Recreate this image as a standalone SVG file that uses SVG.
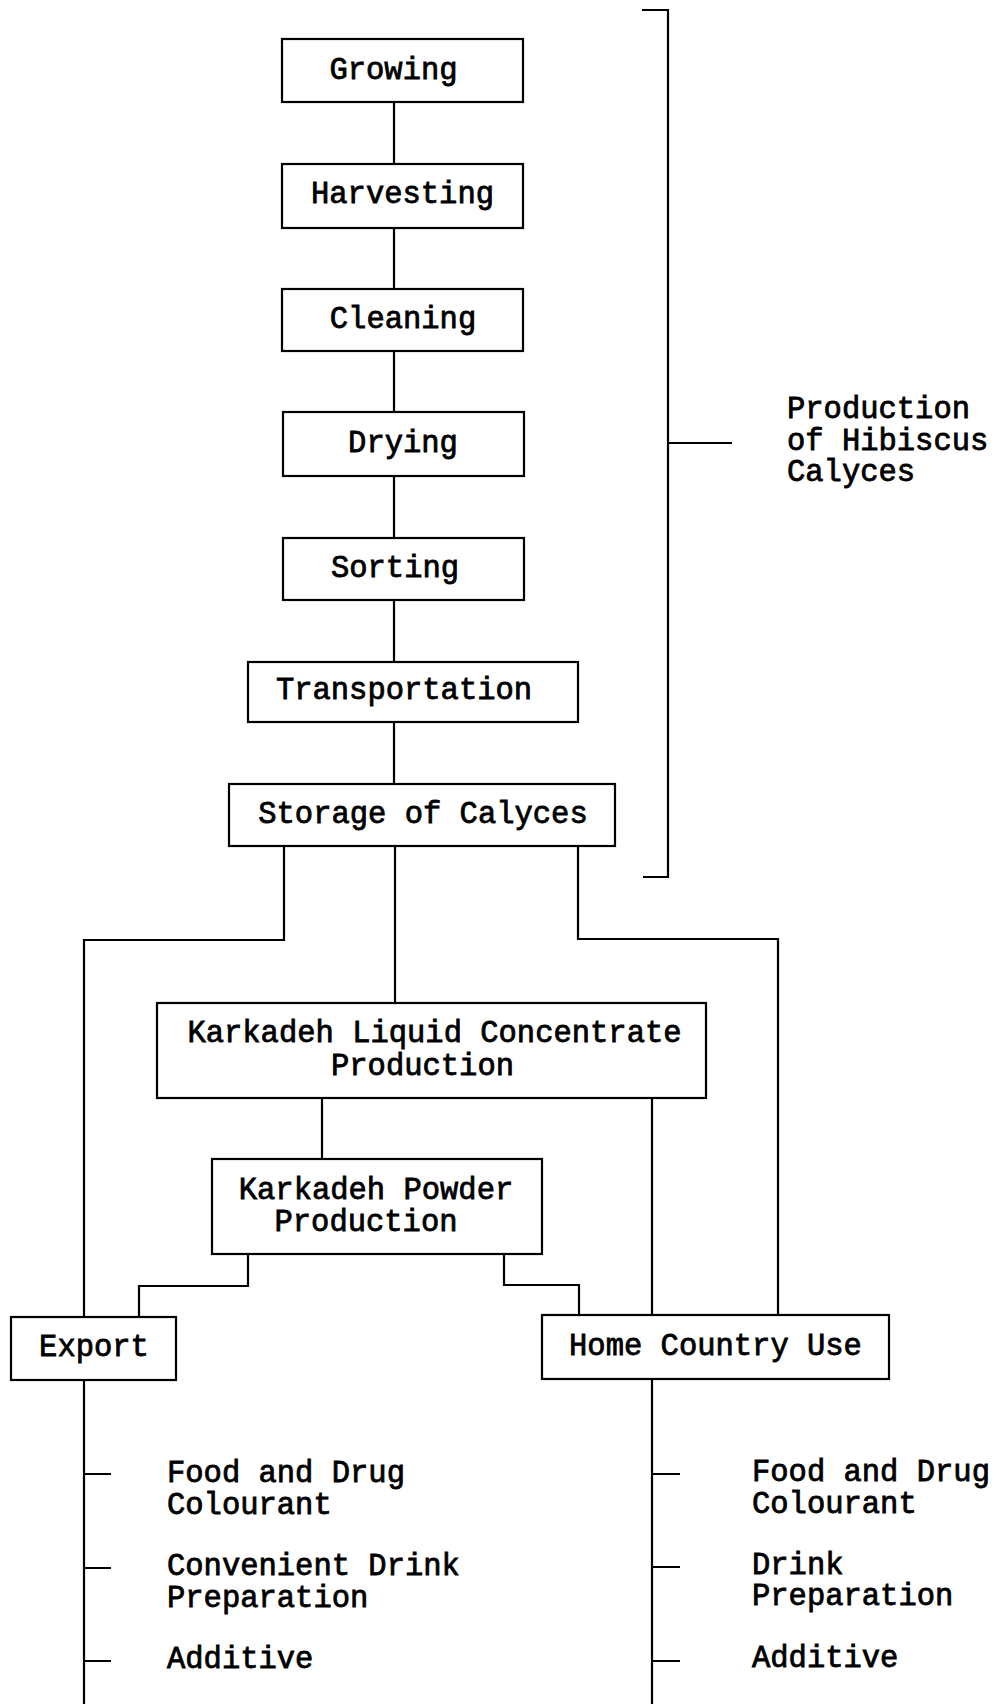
<svg xmlns="http://www.w3.org/2000/svg" width="996" height="1704" viewBox="0 0 996 1704">
<style>
rect{fill:#fff;stroke:#000;stroke-width:2.2}
.c{fill:none;stroke:#000;stroke-width:2.2}
text{font-family:"Liberation Mono","Courier New",monospace;font-size:30.5px;font-weight:normal;fill:#000;stroke:#000;stroke-width:0.8}
.m{text-anchor:middle}
</style>
<rect x="0" y="0" width="996" height="1704" style="stroke:none"/>
<g id="connectors">
<path class="c" d="M394 102V164M394 228V289M394 351V412M394 476V538M394 600V662M394 722V784"/>
<path class="c" d="M284 846V940H84V1317M84 1380V1704"/>
<path class="c" d="M395 846V1003"/>
<path class="c" d="M578 846V939H778V1315"/>
<path class="c" d="M322 1098V1159"/>
<path class="c" d="M652 1098V1315M652 1379V1704"/>
<path class="c" d="M248 1254V1286H139V1317"/>
<path class="c" d="M504 1254V1285H579V1315"/>
<path class="c" d="M642 10H668V877H643M668 443H732"/>
<path class="c" d="M84 1474H111M84 1568H111M84 1661H111"/>
<path class="c" d="M652 1474H680M652 1567H680M652 1661H680"/>
</g>
<g id="growing"><rect x="282" y="39" width="241" height="63"/><text class="m" x="393.5" y="79">Growing</text></g>
<g id="harvesting"><rect x="282" y="164" width="241" height="64"/><text class="m" x="402.5" y="203">Harvesting</text></g>
<g id="cleaning"><rect x="282" y="289" width="241" height="62"/><text class="m" x="403" y="327.5">Cleaning</text></g>
<g id="drying"><rect x="283" y="412" width="241" height="64"/><text class="m" x="403" y="451.5">Drying</text></g>
<g id="sorting"><rect x="283" y="538" width="241" height="62"/><text class="m" x="395" y="577">Sorting</text></g>
<g id="transportation"><rect x="248" y="662" width="330" height="60"/><text class="m" x="404" y="699">Transportation</text></g>
<g id="storage"><rect x="229" y="784" width="386" height="62"/><text class="m" x="423" y="823">Storage of Calyces</text></g>
<g id="liquid"><rect x="157" y="1003" width="549" height="95"/><text class="m" x="434.5" y="1042">Karkadeh Liquid Concentrate</text><text class="m" x="422.5" y="1074.5">Production</text></g>
<g id="powder"><rect x="212" y="1159" width="330" height="95"/><text class="m" x="376" y="1198.5">Karkadeh Powder</text><text class="m" x="366" y="1231">Production</text></g>
<g id="export"><rect x="11" y="1317" width="165" height="63"/><text class="m" x="94" y="1356">Export</text></g>
<g id="home"><rect x="542" y="1315" width="347" height="64"/><text class="m" x="715.5" y="1355">Home Country Use</text></g>
<g id="production-label"><text x="787" y="418">Production</text><text x="787" y="450">of Hibiscus</text><text x="787" y="481">Calyces</text></g>
<g id="export-uses"><text x="167" y="1482">Food and Drug</text><text x="167" y="1514">Colourant</text><text x="167" y="1575">Convenient Drink</text><text x="167" y="1606.5">Preparation</text><text x="167" y="1668">Additive</text></g>
<g id="home-uses"><text x="752" y="1481">Food and Drug</text><text x="752" y="1513">Colourant</text><text x="752" y="1574">Drink</text><text x="752" y="1605">Preparation</text><text x="752" y="1667">Additive</text></g>
</svg>
